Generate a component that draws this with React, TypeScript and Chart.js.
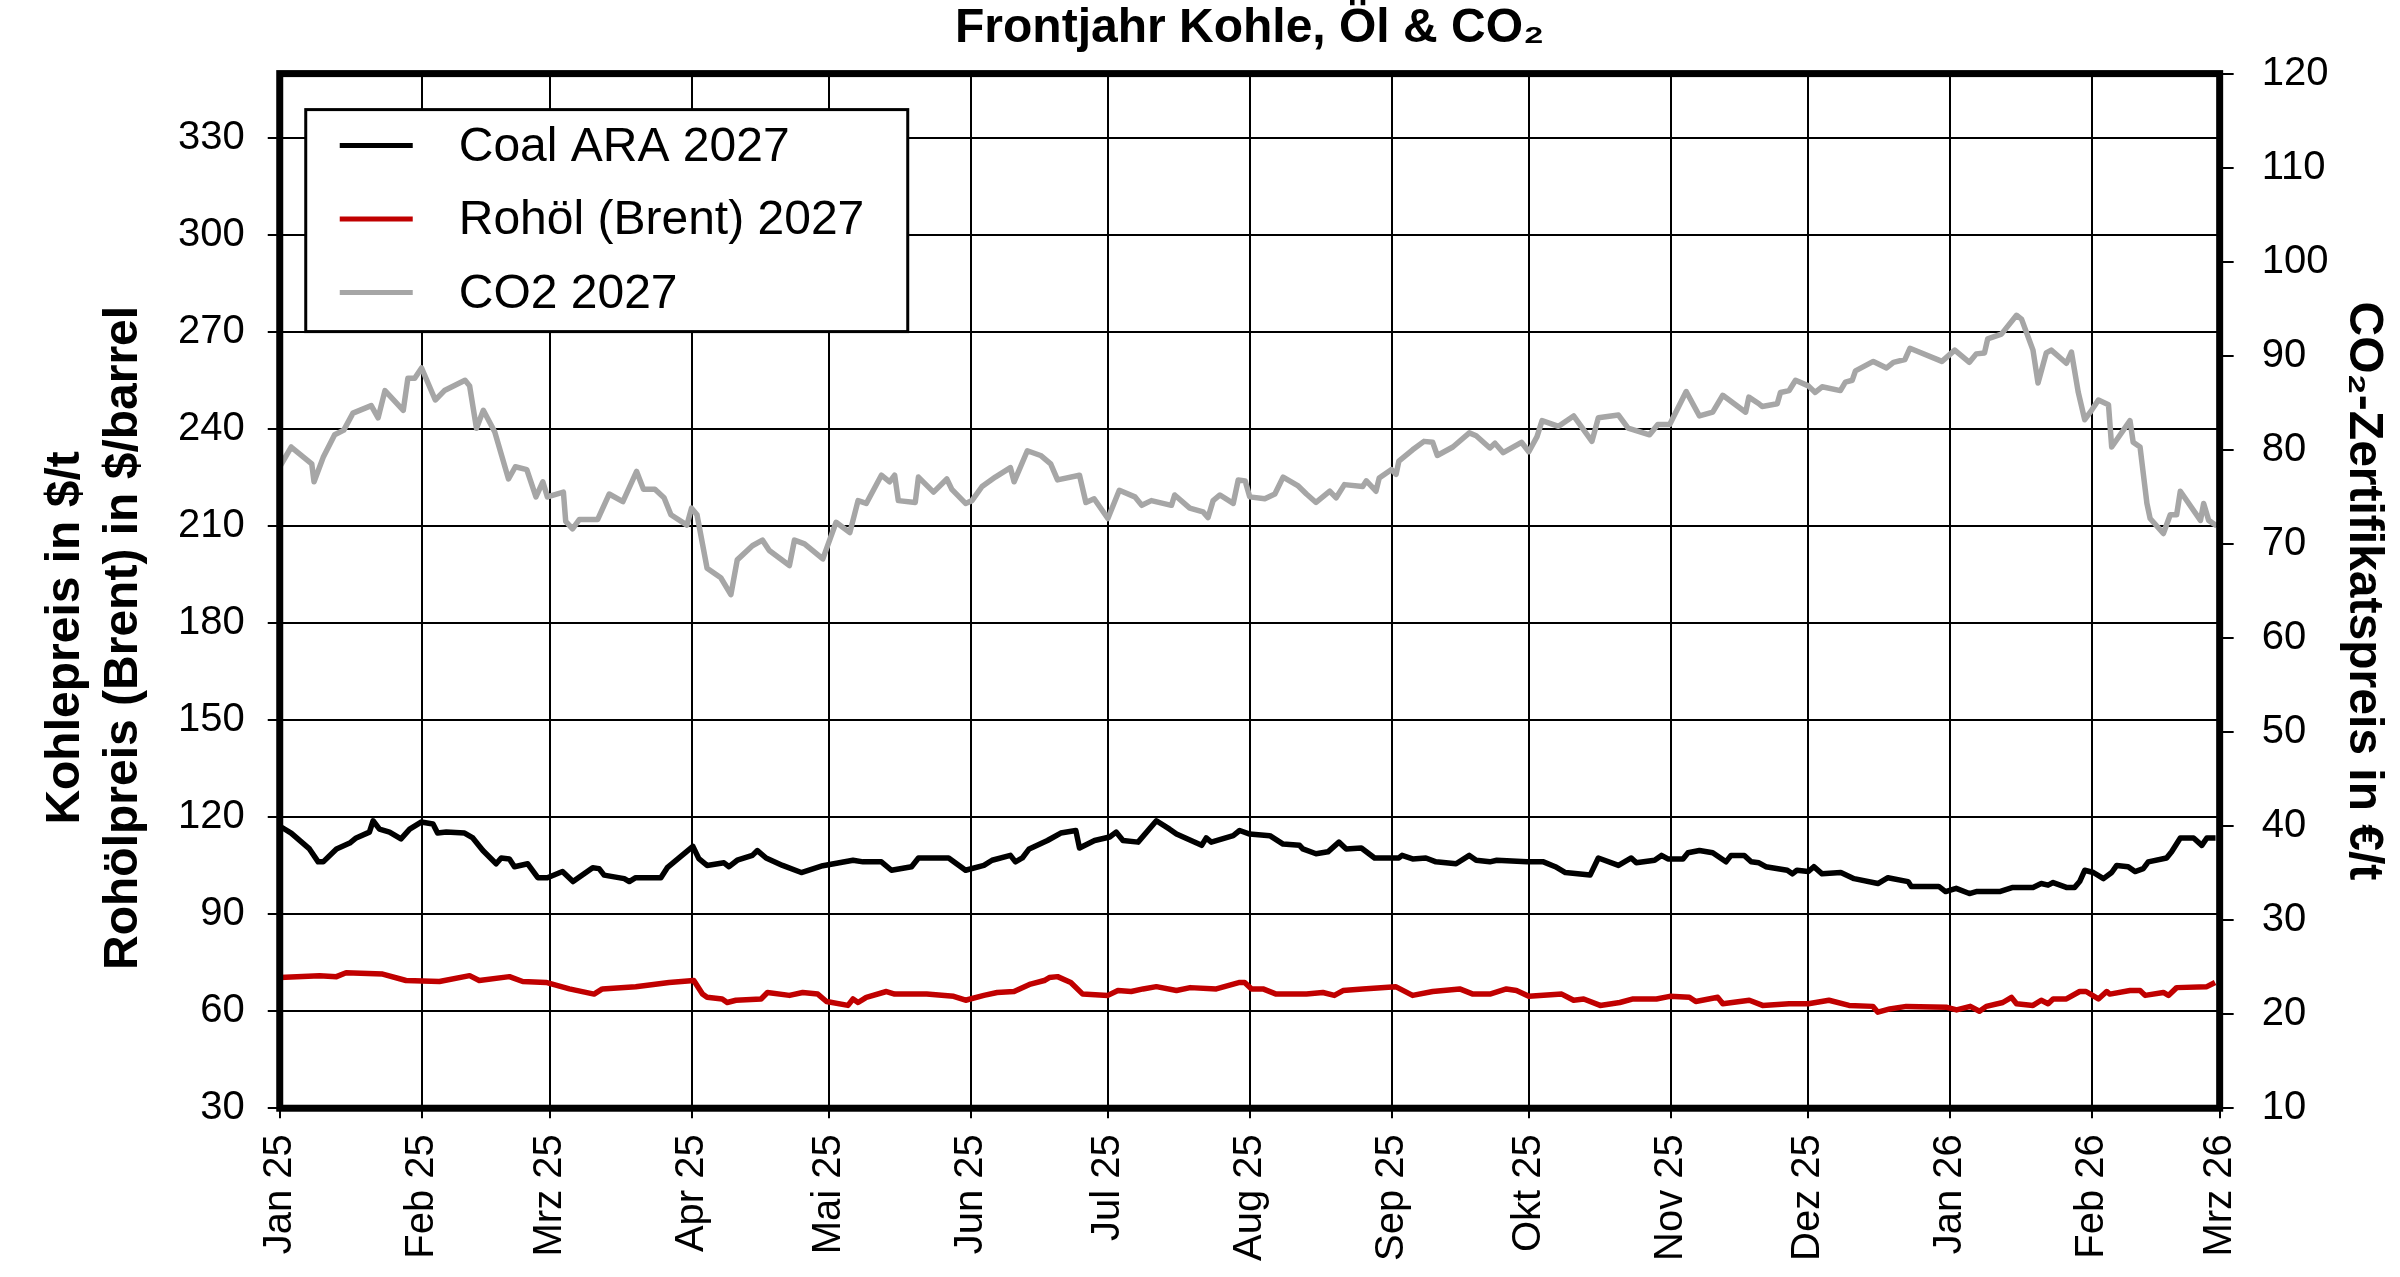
import React, { useEffect, useRef } from 'react';
import { Chart, registerables } from 'chart.js';

Chart.register(...registerables);

const FONT = '"Liberation Sans", Arial, Helvetica, sans-serif';

// x axis: days since 1 Jan 2025, ticks at month starts
const monthDays = [0, 31, 59, 90, 120, 151, 181, 212, 243, 273, 304, 334, 365, 396, 424];
const monthLabels = ['Jan 25', 'Feb 25', 'Mrz 25', 'Apr 25', 'Mai 25', 'Jun 25', 'Jul 25', 'Aug 25', 'Sep 25', 'Okt 25', 'Nov 25', 'Dez 25', 'Jan 26', 'Feb 26', 'Mrz 26'];

const leftTitle = ['Kohlepreis in $/t', 'Rohölpreis (Brent) in $/barrel'];
const rightTitle = 'CO₂-Zertifikatspreis in €/t';
const chartTitle = 'Frontjahr Kohle, Öl & CO₂';

// Coal ARA 2027 ($/t)
const coalDays = [0.4, 2.5, 6.5, 8.4, 9.5, 12.4, 15.3, 16.7, 19.6, 20.4, 21.8, 24, 26.5, 28.4, 30.9, 33.5, 34.5, 36.4, 40.4, 42.2, 44.4, 47.3, 48.4, 50.2, 51.3, 54.2, 56.4, 58.5, 61.8, 64.1, 68.4, 69.8, 70.9, 75.3, 76.4, 77.8, 83.3, 84.7, 90.3, 91.6, 93.4, 97.1, 98.2, 100, 103.3, 104.4, 106.3, 109.9, 114, 118.7, 125.3, 127.5, 131.5, 133.7, 138.1, 139.6, 146.2, 149.9, 153.9, 155.7, 159.7, 160.8, 162.3, 163.8, 167.8, 170.7, 174, 174.8, 178.1, 181.4, 182.8, 184.3, 187.6, 191.6, 194.5, 196, 201.5, 202.5, 203.6, 208.4, 209.8, 212, 216.4, 219.3, 222.9, 223.6, 226.5, 229.1, 231.5, 233.1, 236.4, 239.3, 244.6, 245.3, 247.6, 250.5, 252.7, 257.1, 260, 261.5, 264.5, 266, 272.6, 276.2, 278.8, 281, 286.4, 288.2, 292.6, 295.4, 296.5, 300.5, 302, 303.4, 306.7, 307.8, 310.3, 313.2, 316.1, 317.2, 320.1, 321.6, 323.3, 324.8, 329.5, 330.6, 331.6, 334.1, 335.3, 337.1, 341.2, 344.1, 349.3, 351.5, 355.9, 356.6, 362.6, 364.1, 366.4, 369.3, 370.8, 375.9, 378.8, 383.2, 385, 386.5, 387.6, 390.5, 392.3, 393.4, 394.5, 396.4, 398.6, 400.4, 401.5, 404, 405.5, 407.3, 408.4, 412.4, 413.5, 415.4, 418.3, 420.1, 421.2, 423.1];
const coalValues = [116.9, 115.1, 110.2, 106.2, 106.2, 110.2, 112.0, 113.6, 115.4, 118.9, 116.3, 115.4, 113.3, 116.3, 118.5, 117.9, 115.1, 115.4, 115.1, 113.6, 109.7, 105.6, 107.4, 107.1, 104.7, 105.6, 101.3, 101.3, 103.2, 100.1, 104.4, 104.1, 102.1, 101.0, 100.1, 101.3, 101.3, 104.4, 111.0, 107.2, 105.1, 105.9, 104.7, 106.7, 108.2, 109.7, 107.4, 105.1, 102.9, 105.0, 106.7, 106.2, 106.2, 103.6, 104.7, 107.4, 107.4, 103.6, 105.1, 106.7, 108.2, 106.2, 107.4, 110.2, 112.8, 115.1, 115.9, 110.5, 112.8, 113.9, 115.4, 112.8, 112.3, 118.9, 116.3, 114.8, 111.3, 113.6, 112.3, 114.3, 115.9, 114.8, 114.3, 111.7, 111.3, 110.2, 108.7, 109.3, 112.3, 110.2, 110.5, 107.4, 107.4, 108.2, 107.1, 107.4, 106.2, 105.6, 108.2, 106.7, 106.2, 106.7, 106.2, 106.2, 104.7, 102.9, 102.1, 107.4, 105.1, 107.4, 105.9, 106.7, 108.2, 107.1, 107.1, 109.0, 109.7, 109.0, 106.2, 108.2, 108.2, 106.2, 105.9, 104.7, 103.6, 102.5, 103.6, 103.2, 104.7, 102.5, 102.9, 101.0, 99.5, 101.3, 100.1, 98.6, 98.6, 97.0, 98.0, 96.4, 97.0, 97.0, 98.3, 98.3, 99.5, 99.0, 99.8, 98.3, 98.3, 100.1, 103.6, 102.9, 101.0, 102.9, 105.1, 104.7, 103.2, 104.1, 106.2, 107.4, 109.3, 113.6, 113.6, 111.3, 113.6, 113.6];

// Rohöl (Brent) 2027 ($/barrel)
const brentDays = [0, 8.7, 12.4, 14.5, 22.5, 27.6, 34.9, 41.5, 43.6, 50.2, 53.1, 58.2, 63.3, 68.7, 70.5, 77.8, 85.1, 90.5, 92.4, 93.4, 96.7, 97.8, 99.7, 105.2, 106.6, 111.4, 114.3, 117.6, 119.5, 124.2, 125.3, 126.4, 128.2, 132.6, 134.4, 141.4, 147.3, 149.9, 153.9, 156.8, 160.5, 164.1, 167.1, 168.2, 170, 172.9, 175.5, 181, 183.2, 186.1, 188.7, 191.6, 196, 199, 204.7, 209.8, 210.9, 212.4, 214.9, 217.8, 224.4, 228, 230.5, 232.4, 236.7, 243.9, 247.6, 252, 257.9, 260.8, 264.5, 268.1, 270.3, 273, 280.2, 282.8, 285, 288.6, 292.9, 295.8, 300.9, 303.8, 308.1, 309.5, 314.3, 315.4, 321.2, 324.1, 329.9, 334.1, 338.6, 343, 348.2, 349.3, 351.9, 355.5, 364.4, 366.5, 369.5, 371.5, 373, 376.6, 378.5, 379.6, 383.2, 385, 386.5, 387.6, 390.5, 393.4, 394.8, 397.5, 399.3, 400, 404.4, 406.6, 407.7, 411.7, 412.8, 414.6, 421.2, 423];
const brentValues = [70.4, 71.0, 70.7, 71.9, 71.5, 69.5, 69.2, 71.0, 69.5, 70.7, 69.2, 68.9, 66.9, 65.3, 66.9, 67.6, 68.9, 69.5, 65.3, 64.3, 63.8, 62.7, 63.4, 63.8, 65.8, 64.9, 65.8, 65.3, 63.0, 61.8, 63.8, 62.7, 64.3, 66.1, 65.3, 65.3, 64.6, 63.4, 64.9, 65.8, 66.1, 68.4, 69.5, 70.4, 70.7, 68.9, 65.3, 64.9, 66.4, 66.1, 66.9, 67.6, 66.4, 67.3, 66.9, 68.9, 68.9, 66.9, 66.9, 65.3, 65.3, 65.8, 64.9, 66.4, 66.9, 67.6, 64.9, 66.1, 66.9, 65.3, 65.3, 66.9, 66.4, 64.6, 65.3, 63.4, 63.8, 61.8, 62.7, 63.8, 63.8, 64.6, 64.3, 63.0, 64.3, 62.3, 63.4, 61.8, 62.3, 62.3, 63.4, 61.8, 61.5, 59.7, 60.7, 61.5, 61.2, 60.4, 61.5, 60.0, 61.5, 62.7, 64.3, 62.3, 61.8, 63.4, 62.3, 63.8, 63.8, 66.1, 66.1, 63.8, 66.1, 65.3, 66.4, 66.4, 64.9, 65.8, 64.9, 67.3, 67.6, 68.9];

// CO2 2027 (€/t, right axis)
const co2Days = [0, 2.5, 7, 7.5, 9.5, 12, 14, 16, 20, 21.5, 23, 27, 28, 29.5, 31, 34, 36, 40.5, 41.5, 43, 44.5, 47, 50, 51.5, 54, 56, 57.5, 58.5, 62, 62.5, 64, 65.5, 69.5, 72, 75, 78, 79.5, 82, 84, 85.5, 89, 90, 91.2, 93.4, 96.4, 98.6, 100, 103.3, 105.5, 107, 111.4, 112.5, 114.7, 118.7, 121.6, 124.6, 126.4, 128.2, 131.5, 133.3, 134.4, 135.2, 138.9, 139.6, 142.9, 145.8, 146.9, 149.9, 151.3, 153.5, 156.4, 159.7, 160.5, 163.4, 166.3, 168.5, 170, 174.8, 176.2, 178, 181, 183.5, 186.9, 188.4, 190.5, 194.9, 195.6, 198.9, 201.8, 202.9, 204, 205.5, 208.4, 209.5, 211, 212, 215.3, 217.5, 219.3, 222.5, 224.4, 226.5, 229.5, 230.9, 232.7, 236.7, 237.5, 239.6, 240.3, 243, 244, 244.6, 247.6, 250.1, 252, 253, 256.4, 260, 261.5, 264.5, 265.6, 267.4, 271.4, 273, 274.8, 275.9, 279.5, 282.8, 286.8, 288.2, 292.6, 294.7, 299.4, 301.2, 303.8, 307.4, 310.3, 313.2, 315.4, 320.4, 321.1, 323.3, 324, 327.3, 328, 329.9, 331.3, 334.1, 335.6, 337.1, 341.1, 342.2, 343.7, 344.4, 348.3, 351.2, 352.7, 355.2, 356.3, 363.3, 366.1, 369.3, 370.8, 372.6, 373.3, 376.3, 379.6, 380.7, 383.2, 384.3, 386.1, 387.2, 390.5, 391.6, 393.1, 394.5, 396, 397.5, 399.7, 400.4, 404.4, 405.1, 406.6, 408.1, 408.8, 411.7, 413.2, 414.6, 415.4, 419.8, 420.5, 421.6, 423.4];
const co2Values = [78.2, 80.3, 78.5, 76.6, 79.2, 81.6, 82.1, 83.9, 84.7, 83.4, 86.3, 84.2, 87.6, 87.6, 88.7, 85.3, 86.3, 87.4, 86.8, 82.3, 84.2, 81.9, 76.9, 78.2, 77.9, 75.0, 76.6, 75.0, 75.5, 72.4, 71.6, 72.6, 72.6, 75.3, 74.5, 77.7, 75.8, 75.8, 74.9, 73.1, 72.0, 73.8, 73.1, 67.4, 66.4, 64.6, 68.3, 69.8, 70.4, 69.3, 67.7, 70.4, 70.0, 68.4, 72.3, 71.2, 74.6, 74.3, 77.3, 76.6, 77.3, 74.6, 74.4, 77.1, 75.5, 76.9, 75.8, 74.3, 74.6, 76.1, 77.1, 78.1, 76.6, 79.9, 79.4, 78.5, 76.8, 77.3, 74.4, 74.8, 72.7, 75.7, 75.0, 74.1, 74.6, 74.1, 75.2, 73.8, 73.4, 72.8, 74.6, 75.2, 74.3, 76.8, 76.7, 75.0, 74.8, 75.3, 77.1, 76.2, 75.3, 74.4, 75.6, 74.9, 76.3, 76.1, 76.7, 75.6, 77.0, 77.9, 77.4, 78.8, 80.0, 80.9, 80.8, 79.4, 80.3, 81.8, 81.5, 80.2, 80.7, 79.7, 80.8, 79.8, 81.4, 83.1, 82.5, 83.6, 80.9, 83.4, 83.7, 82.3, 81.6, 82.7, 82.7, 86.2, 83.6, 84.0, 85.8, 84.0, 85.6, 84.9, 84.6, 84.9, 86.1, 86.3, 87.4, 86.8, 86.1, 86.7, 86.3, 87.2, 87.4, 88.4, 89.4, 88.7, 89.3, 89.6, 90.8, 89.4, 90.6, 89.3, 90.2, 90.3, 91.8, 92.3, 94.3, 93.9, 90.6, 87.1, 90.3, 90.6, 89.2, 90.4, 86.1, 83.2, 84.2, 85.3, 84.8, 80.3, 83.1, 80.8, 80.3, 74.3, 72.7, 71.1, 73.1, 73.1, 75.6, 72.5, 74.3, 72.5, 71.9];

const toPoints = (days: number[], values: number[]) => days.map((d, i) => ({ x: d, y: values[i] }));

// legend in a framed box inside the plot area, the two-line left axis title, and the heavy plot frame
const boxLegend = {
    id: 'boxLegend',
    afterDatasetsDraw(chart: any) {
        const { ctx, chartArea } = chart;
        const x = chartArea.left + 26;
        const y = chartArea.top + 36;
        const w = 602;
        const h = 222;
        ctx.save();
        ctx.fillStyle = '#ffffff';
        ctx.fillRect(x, y, w, h);
        ctx.lineWidth = 3;
        ctx.strokeStyle = '#000000';
        ctx.strokeRect(x, y, w, h);
        chart.data.datasets.forEach((ds: any, i: number) => {
            const rowY = y + 36 + i * 73.5;
            ctx.beginPath();
            ctx.moveTo(x + 34, rowY);
            ctx.lineTo(x + 107, rowY);
            ctx.strokeStyle = ds.borderColor;
            ctx.lineWidth = 5;
            ctx.stroke();
            ctx.fillStyle = '#000000';
            ctx.font = `48px ${FONT}`;
            ctx.textBaseline = 'middle';
            ctx.textAlign = 'left';
            ctx.fillText(ds.label, x + 153, rowY + 2);
        });
        ctx.lineWidth = 7;
        ctx.strokeStyle = '#000000';
        ctx.strokeRect(chartArea.left, chartArea.top, chartArea.width, chartArea.height);
        ctx.restore();
    },
    afterDraw(chart: any) {
        const { ctx, chartArea } = chart;
        const cy = (chartArea.top + chartArea.bottom) / 2 + 47;
        ctx.save();
        ctx.fillStyle = '#000000';
        ctx.font = `bold 48px ${FONT}`;
        ctx.textAlign = 'center';
        ctx.textBaseline = 'alphabetic';
        leftTitle.forEach((line, i) => {
            ctx.save();
            ctx.translate(chartArea.left - 201 + i * 58, cy);
            ctx.rotate(-Math.PI / 2);
            ctx.fillText(line, 0, 0);
            ctx.restore();
        });
        ctx.restore();
    },
};

export default function App() {
    const canvasRef = useRef<HTMLCanvasElement>(null);

    useEffect(() => {
        if (!canvasRef.current) return;
        Chart.defaults.font.family = FONT;
        Chart.defaults.color = '#000000';

        const chart = new Chart(canvasRef.current, {
            type: 'line',
            data: {
                datasets: [
                    {
                        label: 'Coal ARA 2027',
                        data: toPoints(coalDays, coalValues),
                        borderColor: '#000000',
                        yAxisID: 'y',
                    },
                    {
                        label: 'Rohöl (Brent) 2027',
                        data: toPoints(brentDays, brentValues),
                        borderColor: '#c00000',
                        yAxisID: 'y',
                    },
                    {
                        label: 'CO2 2027',
                        data: toPoints(co2Days, co2Values),
                        borderColor: '#a6a6a6',
                        yAxisID: 'y1',
                    },
                ],
            },
            options: {
                responsive: true,
                maintainAspectRatio: false,
                animation: false,
                events: [],
                layout: { padding: { left: 155, right: 0, top: 0, bottom: 0 } },
                elements: {
                    point: { radius: 0 },
                    line: { borderWidth: 5.5, tension: 0, borderJoinStyle: 'round', fill: false },
                },
                plugins: {
                    legend: { display: false },
                    tooltip: { enabled: false },
                    title: {
                        display: true,
                        fullSize: false,
                        text: chartTitle,
                        color: '#000000',
                        font: { family: FONT, size: 48, weight: 'bold' },
                        padding: { top: 0, bottom: 16 },
                    },
                },
                scales: {
                    x: {
                        type: 'linear',
                        min: 0,
                        max: 424,
                        afterBuildTicks: (scale: any) => {
                            scale.ticks = monthDays.map(v => ({ value: v }));
                        },
                        ticks: {
                            autoSkip: false,
                            minRotation: 90,
                            maxRotation: 90,
                            padding: 16,
                            color: '#000000',
                            font: { family: FONT, size: 40 },
                            callback: (_v: any, i: number) => monthLabels[i],
                        },
                        grid: { color: '#000000', lineWidth: 2, tickLength: 10, tickColor: '#000000' },
                        border: { display: false },
                    },
                    y: {
                        type: 'linear',
                        position: 'left',
                        min: 30,
                        max: 350,
                        ticks: {
                            stepSize: 30,
                            includeBounds: false,
                            padding: 23,
                            color: '#000000',
                            font: { family: FONT, size: 40 },
                        },
                        grid: { color: '#000000', lineWidth: 2, tickLength: 12, tickColor: '#000000' },
                        border: { display: false },
                    },
                    y1: {
                        type: 'linear',
                        position: 'right',
                        min: 10,
                        max: 120,
                        ticks: {
                            stepSize: 10,
                            padding: 28,
                            color: '#000000',
                            font: { family: FONT, size: 40 },
                        },
                        grid: { drawOnChartArea: false, color: '#000000', lineWidth: 2, tickLength: 14, tickColor: '#000000' },
                        border: { display: false },
                        title: {
                            display: true,
                            text: rightTitle,
                            color: '#000000',
                            font: { family: FONT, size: 48, weight: 'bold' },
                            padding: { top: 8, bottom: -22 },
                        },
                    },
                },
            },
            plugins: [boxLegend],
        });

        return () => chart.destroy();
    }, []);

    return (
        <div style={{ position: 'fixed', left: 0, top: 0, width: '100vw', height: '100vh', background: '#ffffff' }}>
            <canvas ref={canvasRef} style={{ width: '100%', height: '100%' }} />
        </div>
    );
}
